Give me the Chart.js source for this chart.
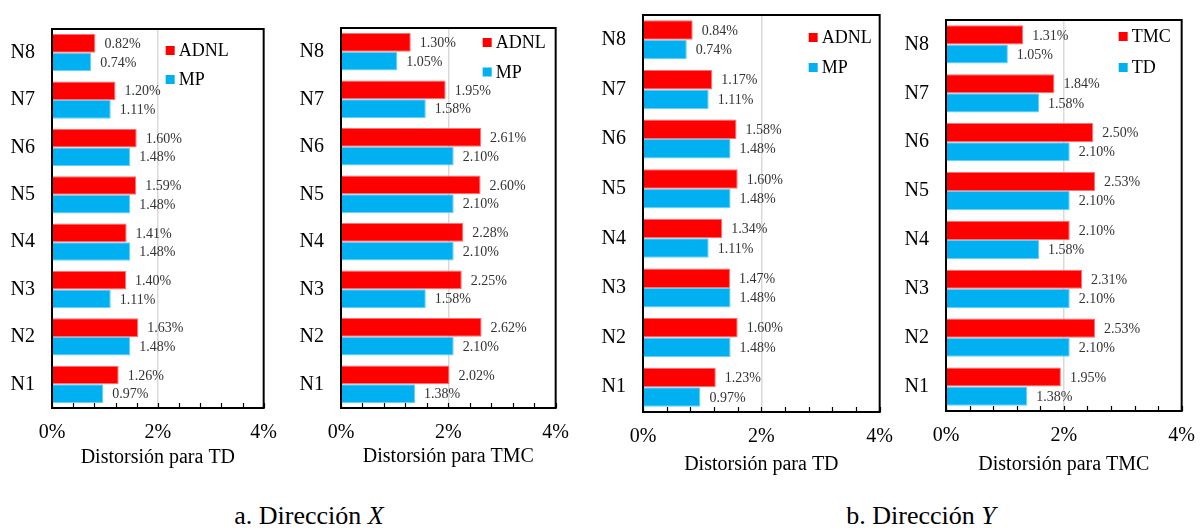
<!DOCTYPE html>
<html>
<head>
<meta charset="utf-8">
<script src="https://cdn.jsdelivr.net/npm/chart.js@4.4.0/dist/chart.umd.min.js"></script>
<style>
  body { margin: 0; width: 1200px; height: 531px; background: #fff; position: relative; overflow: hidden; }
  canvas { position: absolute; }
  .caption { position: absolute; top: 501px; font-family: 'Liberation Serif', 'Times New Roman', serif; font-size: 26px; line-height: 30px; color: #000; transform: translateX(-50%); white-space: nowrap; }
</style>
</head>
<body>
<canvas id="c1"></canvas>
<canvas id="c2"></canvas>
<canvas id="c3"></canvas>
<canvas id="c4"></canvas>
<div class="caption" style="left:309px">a. Dirección <i>X</i></div>
<div class="caption" style="left:921px">b. Dirección <i>Y</i></div>
<script>
// levels, bottom to top
const categories = ['N1', 'N2', 'N3', 'N4', 'N5', 'N6', 'N7', 'N8'];

// Dirección X
const xTdAdnl = [1.26, 1.63, 1.40, 1.41, 1.59, 1.60, 1.20, 0.82];
const xTdMp = [0.97, 1.48, 1.11, 1.48, 1.48, 1.48, 1.11, 0.74];
const xTmcAdnl = [2.02, 2.62, 2.25, 2.28, 2.60, 2.61, 1.95, 1.30];
const xTmcMp = [1.38, 2.10, 1.58, 2.10, 2.10, 2.10, 1.58, 1.05];

// Dirección Y
const yTdAdnl = [1.23, 1.60, 1.47, 1.34, 1.60, 1.58, 1.17, 0.84];
const yTdMp = [0.97, 1.48, 1.48, 1.11, 1.48, 1.48, 1.11, 0.74];
const yTmcTmc = [1.95, 2.53, 2.31, 2.10, 2.53, 2.50, 1.84, 1.31];
const yTmcTd = [1.38, 2.10, 2.10, 1.58, 2.10, 2.10, 1.58, 1.05];

const xMin = 0;
const xMax = 4;
const xStep = 0.4;
const xLabelEvery = 2;

const RED = '#FF0000';
const BLUE = '#00B0F0';
const FONT = "'Liberation Serif', 'Times New Roman', serif";

// plot box of each panel in page pixels, plus legend placement
const panels = [
    { id: 'c1', title: 'Distorsión para TD', names: ['ADNL', 'MP'], series: [xTdAdnl, xTdMp],
      box: [52, 20, 265, 408], legendX: -98, legendY: [21.5, 50.5], titleGap: 50 },
    { id: 'c2', title: 'Distorsión para TMC', names: ['ADNL', 'MP'], series: [xTmcAdnl, xTmcMp],
      box: [341, 19, 557, 408], legendX: -73, legendY: [14.5, 44], titleGap: 49 },
    { id: 'c3', title: 'Distorsión para TD', names: ['ADNL', 'MP'], series: [yTdAdnl, yTdMp],
      box: [643, 6, 881, 412], legendX: -71, legendY: [22.5, 52.5], titleGap: 53 },
    { id: 'c4', title: 'Distorsión para TMC', names: ['TMC', 'TD'], series: [yTmcTmc, yTmcTd],
      box: [946, 11, 1183, 411], legendX: -63, legendY: [16.5, 47.5], titleGap: 54 }
];

const PAD_T = 20;
const PAD_R = 25;
const Y_W = 60;
const X_H = 70;

const decorPlugin = {
    id: 'decor',
    afterDatasetsDraw(chart) {
        const ctx = chart.ctx;
        ctx.save();
        ctx.font = '14px ' + FONT;
        ctx.fillStyle = '#333333';
        ctx.textAlign = 'left';
        ctx.textBaseline = 'middle';
        chart.data.datasets.forEach((ds, i) => {
            chart.getDatasetMeta(i).data.forEach((bar, j) => {
                ctx.fillText(ds.data[j].toFixed(2) + '%', bar.x + 9, bar.y + 1);
            });
        });
        ctx.restore();
    },
    afterDraw(chart, args, opts) {
        const ctx = chart.ctx;
        const area = chart.chartArea;
        const xScale = chart.scales.x;
        ctx.save();
        // tick marks inside the bottom edge
        ctx.strokeStyle = '#000';
        ctx.lineWidth = 1.2;
        xScale.ticks.forEach(t => {
            const px = Math.round(xScale.getPixelForValue(t.value)) + 0.5;
            ctx.beginPath();
            ctx.moveTo(px, area.bottom);
            ctx.lineTo(px, area.bottom - 5);
            ctx.stroke();
        });
        // frame
        ctx.lineWidth = 2;
        ctx.strokeRect(area.left, area.top, area.right - area.left, area.bottom - area.top);
        // legend
        ctx.font = '18px ' + FONT;
        ctx.textAlign = 'left';
        ctx.textBaseline = 'middle';
        chart.data.datasets.forEach((ds, i) => {
            const lx = area.right + opts.legendX;
            const ly = area.top + opts.legendY[i];
            ctx.fillStyle = ds.backgroundColor;
            ctx.fillRect(lx, ly - 4.5, 9, 9);
            ctx.fillStyle = '#000';
            ctx.fillText(ds.label, lx + 13, ly + 1);
        });
        ctx.restore();
    }
};

function drawPanel(p) {
    const [left, top, right, bottom] = p.box;
    const canvas = document.getElementById(p.id);
    canvas.width = (right - left) + Y_W + PAD_R;
    canvas.height = (bottom - top) + PAD_T + X_H;
    canvas.style.left = (left - Y_W) + 'px';
    canvas.style.top = (top - PAD_T) + 'px';

    new Chart(canvas.getContext('2d'), {
        type: 'bar',
        data: {
            labels: categories,
            datasets: [
                { label: p.names[0], data: p.series[0], backgroundColor: RED,
                  borderColor: '#FF7070', borderWidth: 1 },
                { label: p.names[1], data: p.series[1], backgroundColor: BLUE,
                  borderColor: '#66D0F6', borderWidth: 1 }
            ]
        },
        options: {
            indexAxis: 'y',
            responsive: false,
            animation: false,
            events: [],
            categoryPercentage: 0.785,
            barPercentage: 1.0,
            layout: { padding: { top: PAD_T, right: PAD_R, left: 0, bottom: 0 } },
            plugins: {
                legend: { display: false },
                tooltip: { enabled: false },
                decor: { legendX: p.legendX, legendY: p.legendY }
            },
            scales: {
                x: {
                    min: xMin,
                    max: xMax,
                    border: { display: false },
                    grid: {
                        drawTicks: false,
                        color: c => (c.tick && Math.abs(c.tick.value - 2) < 1e-6) ? '#d9d9d9' : 'rgba(0,0,0,0)',
                        lineWidth: 1.5
                    },
                    ticks: {
                        stepSize: xStep,
                        autoSkip: false,
                        maxRotation: 0,
                        padding: 13,
                        color: '#000',
                        font: { family: FONT, size: 20 },
                        callback: v => {
                            const r = v / xLabelEvery;
                            return Math.abs(r - Math.round(r)) < 1e-6 ? Math.round(v) + '%' : '';
                        }
                    },
                    title: {
                        display: true,
                        text: p.title,
                        color: '#000',
                        font: { family: FONT, size: 20 },
                        padding: { top: 0, bottom: X_H - p.titleGap - 12 }
                    },
                    afterFit: s => { s.height = X_H; }
                },
                y: {
                    reverse: true,
                    border: { display: false },
                    grid: { display: false, drawTicks: false },
                    ticks: {
                        padding: 17,
                        color: '#000',
                        font: { family: FONT, size: 20 }
                    },
                    afterFit: s => { s.width = Y_W; }
                }
            }
        },
        plugins: [decorPlugin]
    });
}

panels.forEach(drawPanel);
</script>
</body>
</html>
